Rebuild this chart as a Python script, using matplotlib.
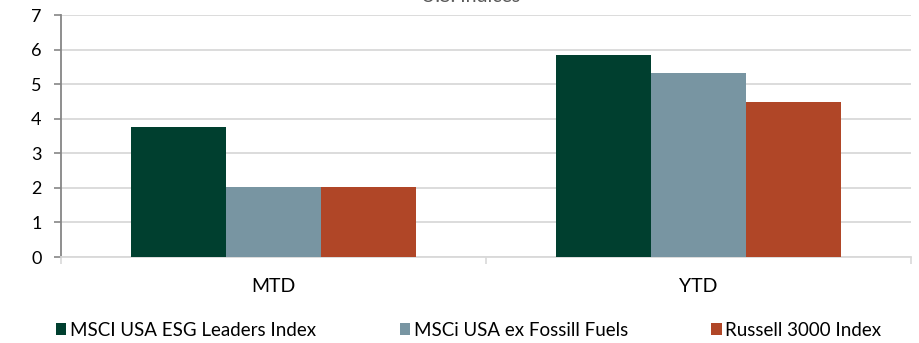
import matplotlib
matplotlib.use("Agg")
import matplotlib.pyplot as plt
import numpy as np
from matplotlib.ticker import FixedLocator, NullFormatter

plt.rcParams['font.family'] = ['Lato', 'DejaVu Sans']

categories = ["MTD", "YTD"]
series_names = ["MSCI USA ESG Leaders Index", "MSCi USA ex Fossill Fuels", "Russell 3000 Index"]
esg_leaders = [3.75, 5.85]
ex_fossil = [2.02, 5.32]
russell_3000 = [2.02, 4.47]
colors = ["#003F2F", "#7895A2", "#B04627"]
title = "U.S. Indices"

fig = plt.figure(figsize=(9.19, 3.43), dpi=100)
ax = fig.add_axes([61/919, 86/343, 850/919, 242/343])

x = np.arange(len(categories))
width = 0.223
for i, (vals, name, c) in enumerate(zip([esg_leaders, ex_fossil, russell_3000], series_names, colors)):
    ax.bar(x + (i - 1) * width, vals, width, color=c, label=name, zorder=3, linewidth=0)

ax.set_xlim(-0.5, 1.5)
ax.set_ylim(0, 7)
ax.set_yticks(range(0, 8))
ax.yaxis.grid(True, color="#D9D9D9", linewidth=1.3, zorder=0)
ax.set_axisbelow(True)

ax.xaxis.set_major_locator(FixedLocator([-0.5, 0.5, 1.5]))
ax.xaxis.set_major_formatter(NullFormatter())
ax.xaxis.set_minor_locator(FixedLocator(list(x)))
ax.set_xticklabels(categories, minor=True)
ax.tick_params(axis='x', which='major', length=5, color="#D9D9D9", width=1.2)
ax.tick_params(axis='x', which='minor', length=0, pad=15, labelsize=14, labelcolor="#000000")
ax.tick_params(axis='y', length=5, color="#868686", width=1.2, labelsize=13, pad=9)

for s in ["top", "right"]:
    ax.spines[s].set_visible(False)
ax.spines["left"].set_color("#868686")
ax.spines["left"].set_linewidth(1.3)
ax.spines["bottom"].set_color("#D9D9D9")
ax.spines["bottom"].set_linewidth(1.3)

fig.text(0.512, 1 - 1.5/343, title, ha="center", va="baseline", fontsize=14, color="#595959")

fig.legend(loc="center left", bbox_to_anchor=(56/919, 1 - 330/343), ncol=3, frameon=False,
           fontsize=13.5, handlelength=0.55, handleheight=0.55, handletextpad=0.2,
           columnspacing=4.45, borderpad=0, borderaxespad=0)

fig.savefig("out.png", dpi=100)
